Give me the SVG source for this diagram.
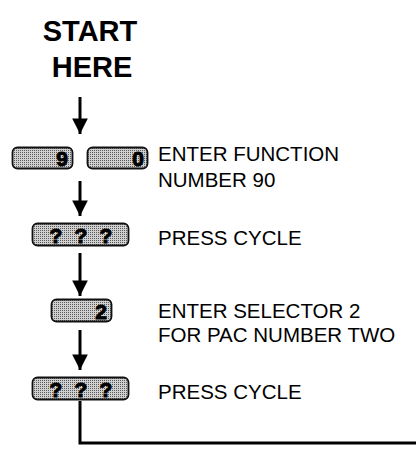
<svg xmlns="http://www.w3.org/2000/svg" width="416" height="450" viewBox="0 0 416 450">
<defs>
<pattern id="stip" width="2" height="2" patternUnits="userSpaceOnUse">
<rect width="2" height="2" fill="#d0d0d0"/>
<rect width="1" height="1" fill="#5a5a5a"/>
</pattern>
<marker id="ah" viewBox="0 0 10 10" refX="10" refY="5" markerWidth="5.6" markerHeight="5.2" markerUnits="strokeWidth" orient="auto">
<path d="M0,0 L10,5 L0,10 Z" fill="#000"/>
</marker>
<style>
.key{fill:url(#stip);stroke:#111;stroke-width:1.8}
.kt{font-family:"Liberation Sans",Arial,sans-serif;font-weight:bold;font-size:21px;fill:#000;stroke:#000;stroke-width:1}
.lbl{font-family:"Liberation Sans",Arial,sans-serif;font-size:20.5px;fill:#000}
.title{font-family:"Liberation Sans",Arial,sans-serif;font-weight:bold;font-size:29px;fill:#000;text-anchor:middle}
.conn{stroke:#000;stroke-width:3;fill:none}
</style>
</defs>
<g id="start">
<text class="title" x="90" y="41">START</text>
<text class="title" x="92" y="77">HERE</text>
</g>
<g id="connectors">
<line class="conn" x1="80" y1="97" x2="80" y2="134" marker-end="url(#ah)"/>
<line class="conn" x1="80" y1="181" x2="80" y2="216" marker-end="url(#ah)"/>
<line class="conn" x1="80" y1="253" x2="80" y2="296" marker-end="url(#ah)"/>
<line class="conn" x1="80" y1="330" x2="80" y2="370" marker-end="url(#ah)"/>
<polyline class="conn" points="80,401 80,443 416,443"/>
</g>
<g id="step1">
<rect class="key" x="12.5" y="147.5" width="60" height="21" rx="5"/>
<text class="kt" x="68" y="166" text-anchor="end">9</text>
<rect class="key" x="87.5" y="147.5" width="60" height="21" rx="5"/>
<text class="kt" x="144" y="166" text-anchor="end">0</text>
<text class="lbl" x="158" y="161">ENTER FUNCTION</text>
<text class="lbl" x="158" y="187">NUMBER 90</text>
</g>
<g id="step2">
<rect class="key" x="32.5" y="223.5" width="96" height="22" rx="5"/>
<text class="kt" x="56" y="243" text-anchor="middle">?</text>
<text class="kt" x="81" y="243" text-anchor="middle">?</text>
<text class="kt" x="106" y="243" text-anchor="middle">?</text>
<text class="lbl" x="158" y="245">PRESS CYCLE</text>
</g>
<g id="step3">
<rect class="key" x="51.5" y="299.5" width="60" height="22" rx="5"/>
<text class="kt" x="107" y="319" text-anchor="end">2</text>
<text class="lbl" x="158" y="318">ENTER SELECTOR 2</text>
<text class="lbl" x="158" y="342">FOR PAC NUMBER TWO</text>
</g>
<g id="step4">
<rect class="key" x="32.5" y="377.5" width="96" height="22" rx="5"/>
<text class="kt" x="56" y="397" text-anchor="middle">?</text>
<text class="kt" x="81" y="397" text-anchor="middle">?</text>
<text class="kt" x="106" y="397" text-anchor="middle">?</text>
<text class="lbl" x="158" y="399">PRESS CYCLE</text>
</g>
</svg>
